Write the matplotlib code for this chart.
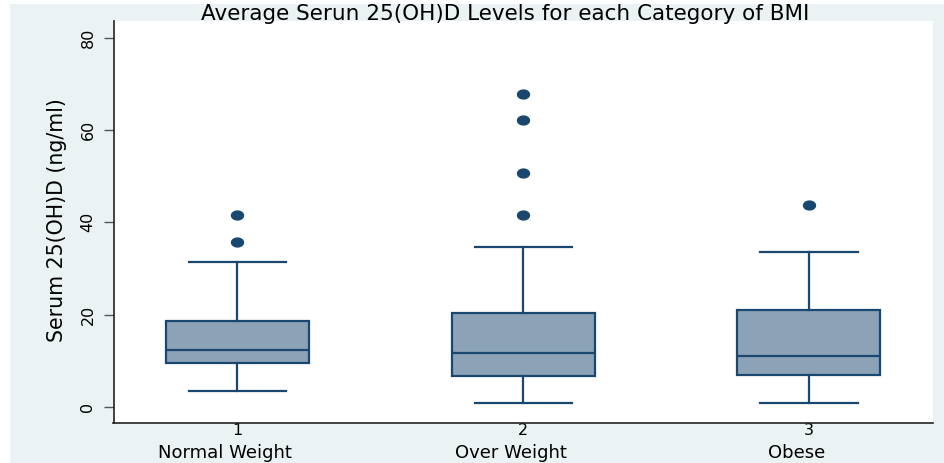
import matplotlib
matplotlib.use('Agg')
import matplotlib.pyplot as plt
from matplotlib.patches import Rectangle
from matplotlib.path import Path
import numpy as np

# ---- data ----
category_codes = ["1", "2", "3"]
category_names = ["Normal Weight", "Over Weight", "Obese"]
q1 = [9.4, 6.7, 7.0]
median = [12.3, 11.6, 11.1]
q3 = [18.5, 20.4, 21.0]
whisker_low = [3.5, 0.9, 0.8]
whisker_high = [31.4, 34.6, 33.6]
outliers = [[35.7, 41.6], [41.6, 50.6, 62.1, 67.8], [43.7]]
yticks = [0, 20, 40, 60, 80]

title = "Average Serun 25(OH)D Levels for each Category of BMI"
ylabel = "Serum 25(OH)D (ng/ml)"

# ---- styling ----
W, H = 944, 463
navy = "#1A476F"
fill = "#8CA2B7"
bg = "#EAF2F3"

fig = plt.figure(figsize=(W / 100, H / 100), dpi=100, facecolor="white")
fig.patches.append(Rectangle((10 / W, 0), 1 - 10 / W, (H - 4) / H,
                             transform=fig.transFigure, facecolor=bg,
                             edgecolor="none", zorder=-10))

left, right, top, bottom = 113.5, 933, 21, 422.5
ax = fig.add_axes([left / W, (H - bottom) / H, (right - left) / W, (bottom - top) / H])
ax.set_facecolor("white")

stats = []
for i in range(len(category_codes)):
    stats.append(dict(med=median[i], q1=q1[i], q3=q3[i],
                      whislo=whisker_low[i], whishi=whisker_high[i],
                      fliers=outliers[i], label=category_codes[i]))

theta = np.linspace(0, 2 * np.pi, 64)
ell = Path(np.c_[1.35 * np.cos(theta), np.sin(theta)], closed=True)

positions = [1, 2, 3]
ax.bxp(stats, positions=positions, widths=0.5, patch_artist=True,
       capwidths=0.34,
       boxprops=dict(facecolor=fill, edgecolor=navy, linewidth=1.6),
       medianprops=dict(color=navy, linewidth=1.6),
       whiskerprops=dict(color=navy, linewidth=1.6),
       capprops=dict(color=navy, linewidth=1.6),
       flierprops=dict(marker=ell, markerfacecolor=navy, markeredgecolor=navy,
                       markersize=8.6, linestyle="none"))

ax.set_xlim(0.567, 3.434)
ax.set_ylim(-3.4, 83.6)

ax.set_yticks(yticks)
ax.set_yticklabels([str(t) for t in yticks], rotation=90, va="center",
                   fontsize=11.5)
ax.tick_params(axis="y", length=7, width=1.0, color="#555555", pad=6,
               labelcolor="black")
ax.set_xticks(positions)
ax.set_xticklabels(category_codes, fontsize=11.5)
ax.tick_params(axis="x", length=0, pad=0.3)

for pos, name in zip(positions, category_names):
    ax.annotate(name, xy=(pos, 4.5), xycoords=("data", "figure pixels"),
                xytext=(-12, 0), textcoords="offset pixels",
                ha="center", va="baseline", fontsize=13,
                annotation_clip=False)

for s in ["top", "right"]:
    ax.spines[s].set_visible(False)
for s in ["left", "bottom"]:
    ax.spines[s].set_color("#222222")
    ax.spines[s].set_linewidth(1.2)

fig.text(505 / W, 1 - 14.5 / H, title, ha="center", va="center", fontsize=15.5)
fig.text(57 / W, 1 - 220 / H, ylabel, ha="center", va="center",
         rotation=90, fontsize=14.8)

fig.savefig("out.png", dpi=100)
